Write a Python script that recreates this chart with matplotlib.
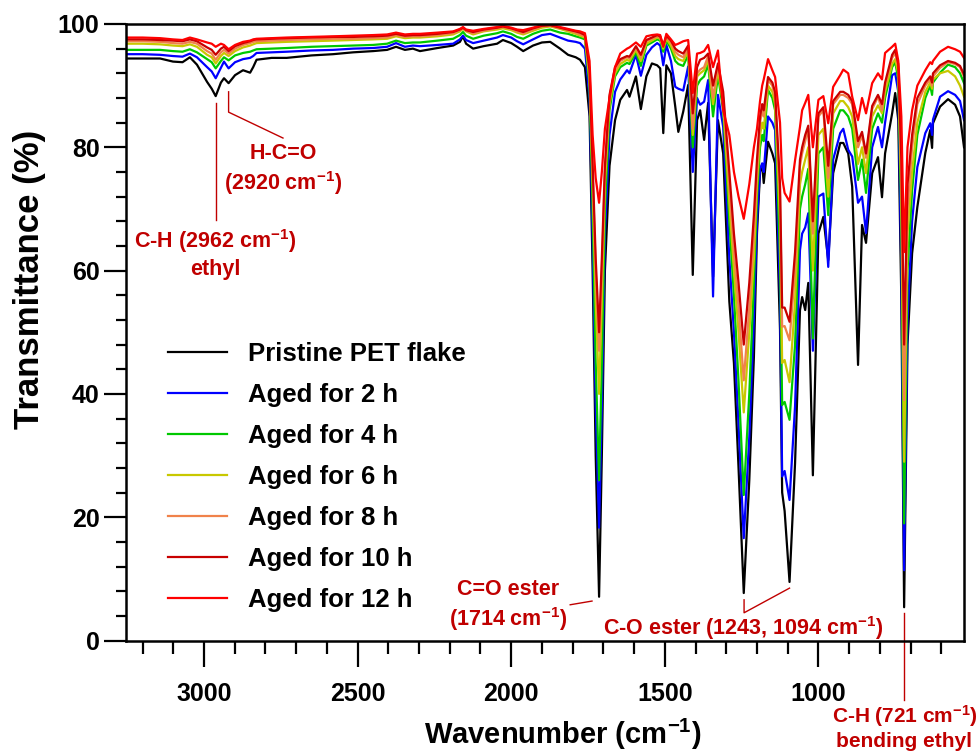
import matplotlib
matplotlib.use('Agg')
import matplotlib.pyplot as plt
from matplotlib.ticker import MultipleLocator

plt.rcParams['font.family'] = ['Liberation Sans', 'DejaVu Sans']
plt.rcParams['font.weight'] = 'bold'
plt.rcParams['axes.labelweight'] = 'bold'
plt.rcParams['mathtext.fontset'] = 'custom'
plt.rcParams['mathtext.rm'] = 'Liberation Sans:bold'
plt.rcParams['mathtext.bf'] = 'Liberation Sans:bold'
plt.rcParams['mathtext.default'] = 'bf'

# wavenumber grid (cm-1)
wavenumber = [
    3250, 3200, 3143, 3101, 3070, 3046, 3023, 2990, 2975, 2962, 2945, 2935, 2920, 2899, 2873, 2850,
    2840, 2829, 2780, 2731, 2650, 2580, 2515, 2450, 2404, 2375, 2346, 2320, 2297, 2240, 2189, 2167,
    2157, 2147, 2124, 2090, 2046, 2027, 2000, 1981, 1961, 1929, 1900, 1873, 1841, 1815, 1790, 1776,
    1760, 1745, 1735, 1725, 1714, 1705, 1695, 1680, 1662,
    1645, 1623, 1615, 1594, 1578, 1560, 1542, 1525, 1515, 1505, 1495, 1480, 1466, 1456, 1440, 1424,
    1409, 1395, 1385, 1372, 1359, 1343, 1327,
    1310, 1290, 1275, 1260, 1243, 1225, 1210, 1200, 1190, 1183, 1178, 1164, 1150, 1141, 1125, 1118,
    1110, 1094, 1076, 1060, 1053, 1043, 1033, 1018, 1000, 984, 968, 952, 929, 919, 903, 890,
    871, 858, 845, 825, 806, 793, 783, 760, 750, 740, 730, 721, 710, 695, 678, 652,
    636, 630, 627, 604, 578, 555, 539, 526,
]

pristine = [
    94.4, 94.4, 94.4, 93.9, 93.8, 94.6, 93.4, 90.6, 89.5, 88.3, 90.5, 91.2, 90.4, 91.7, 92.5, 92.1,
    93.0, 94.2, 94.5, 94.5, 94.9, 95.1, 95.4, 95.6, 95.8, 96.3, 95.8, 96.0, 95.6, 96.1, 96.5, 97.1,
    98.0, 96.8, 96.0, 96.4, 96.8, 97.4, 96.9, 96.3, 95.6, 96.5, 97.0, 97.1, 96.0, 95.0, 94.6, 94.2,
    93.0, 85.0, 60.0, 30.0, 7.1, 30.0, 60.0, 77.0, 84.4,
    87.7, 89.3, 88.2, 91.5, 86.2, 91.5, 93.6, 93.3, 92.8, 82.3, 93.3, 92.0, 86.6, 82.5, 85.8, 90.1,
    59.3, 84.4, 86.0, 81.2, 87.2, 59.0, 84.4,
    79.0, 55.0, 45.0, 28.0, 7.7, 26.0, 46.0, 66.0, 76.0, 77.1, 74.2, 80.9, 79.0, 77.4, 50.4, 24.0,
    21.0, 9.5, 28.8, 53.6, 55.7, 53.6, 58.0, 26.8, 66.0, 68.7, 61.7, 75.8, 80.7, 80.7, 79.0, 73.6,
    44.7, 67.4, 64.5, 75.8, 78.4, 71.9, 79.0, 85.5, 88.8, 84.4, 55.0, 5.4, 48.0, 62.8, 70.3, 79.1,
    82.8, 79.9, 83.9, 86.6, 87.8, 86.9, 85.0, 80.0,
]

aged_2h = [
    95.1, 95.1, 95.0, 94.8, 94.7, 95.2, 94.6, 93.0, 92.3, 91.2, 92.9, 93.9, 92.8, 93.8, 94.3, 94.5,
    94.8, 95.3, 95.4, 95.5, 95.7, 95.8, 96.0, 96.1, 96.3, 96.9, 96.3, 96.5, 96.4, 96.6, 96.8, 97.5,
    98.1, 97.4, 96.9, 97.3, 97.8, 98.2, 97.8, 97.2, 96.7, 97.5, 98.2, 98.4, 97.8, 97.3, 97.1, 96.9,
    96.0, 88.0, 65.0, 38.0, 18.3, 38.0, 66.0, 82.0, 89.0,
    91.0, 92.5, 92.0, 95.0, 91.6, 95.0, 96.2, 96.9, 96.5, 93.3, 96.6, 94.0, 89.8, 89.5, 89.2, 93.1,
    76.0, 88.0, 86.9, 87.4, 90.9, 55.8, 88.5,
    83.3, 62.0, 50.0, 35.0, 16.6, 33.0, 52.0, 68.0, 76.5, 77.4, 76.0, 85.0, 84.0, 82.8, 56.0, 26.6,
    27.5, 22.8, 38.0, 63.3, 66.0, 67.0, 69.3, 47.0, 72.0, 72.5, 60.6, 78.0, 82.3, 83.0, 79.6, 78.5,
    71.0, 72.0, 66.1, 80.0, 83.3, 80.0, 84.0, 91.7, 92.0, 89.0, 60.0, 11.4, 52.0, 68.0, 76.8, 82.3,
    83.9, 82.0, 84.5, 88.2, 89.1, 88.5, 87.5, 84.4,
]

aged_4h = [
    95.8, 95.8, 95.8, 95.6, 95.5, 95.9, 95.4, 94.3, 93.8, 92.8, 94.0, 94.6, 94.1, 94.9, 95.3, 95.5,
    95.7, 95.9, 96.0, 96.1, 96.3, 96.4, 96.5, 96.6, 96.8, 97.3, 96.9, 97.0, 97.0, 97.3, 97.6, 98.2,
    98.7, 98.1, 97.6, 98.1, 98.5, 98.8, 98.4, 97.9, 97.6, 98.4, 98.9, 99.1, 98.6, 98.4, 98.0, 97.8,
    97.5, 90.0, 70.0, 45.0, 26.0, 45.0, 70.0, 86.0, 91.5,
    93.0, 93.7, 93.5, 95.4, 93.2, 96.5, 97.0, 97.5, 97.3, 95.5, 97.3, 96.0, 94.0, 93.5, 93.2, 95.0,
    80.0, 90.0, 90.9, 91.5, 93.5, 85.0, 91.7,
    86.0, 68.0, 56.0, 42.0, 23.6, 40.0, 58.0, 72.0, 80.0, 82.0, 81.0, 89.3, 88.0, 86.0, 62.0, 38.2,
    38.7, 35.8, 48.0, 70.0, 72.0, 74.0, 76.5, 49.0, 79.0, 80.0, 69.0, 83.0, 86.0, 86.0, 85.0, 83.0,
    74.7, 78.0, 72.6, 83.0, 85.5, 84.0, 88.0, 93.0, 93.8, 91.0, 68.0, 19.0, 60.0, 73.0, 82.0, 88.0,
    90.0, 88.5, 90.5, 92.1, 93.4, 93.0, 92.0, 90.4,
]

aged_6h = [
    96.8, 96.8, 96.7, 96.5, 96.4, 96.7, 96.3, 95.0, 94.6, 93.6, 94.8, 95.3, 94.8, 95.6, 96.2, 96.5,
    96.7, 96.9, 97.0, 97.1, 97.2, 97.3, 97.4, 97.5, 97.6, 98.0, 97.7, 97.8, 97.8, 98.0, 98.3, 98.8,
    99.2, 98.8, 98.3, 98.8, 99.1, 99.3, 99.0, 98.6, 98.3, 98.9, 99.4, 99.6, 99.2, 98.8, 98.4, 98.1,
    97.8, 91.0, 74.0, 55.0, 40.0, 55.0, 74.0, 87.0, 92.0,
    93.5, 94.2, 94.0, 95.8, 94.0, 96.8, 97.3, 97.8, 97.6, 96.0, 97.6, 96.5, 94.8, 94.3, 94.0, 95.6,
    82.0, 91.5, 92.0, 92.5, 94.2, 87.0, 92.5,
    87.0, 71.0, 60.0, 50.0, 37.0, 50.0, 62.0, 74.0, 82.0, 84.0, 83.0, 90.0, 89.0, 87.0, 68.0, 45.0,
    45.5, 41.9, 55.0, 74.0, 76.0, 78.0, 80.0, 60.0, 82.0, 83.0, 72.0, 85.5, 87.5, 87.5, 86.5, 85.0,
    77.3, 80.0, 75.8, 85.0, 86.8, 85.5, 89.0, 93.5, 94.3, 92.0, 72.0, 29.0, 66.0, 76.0, 84.0, 89.0,
    90.5, 89.5, 91.0, 92.0, 92.4, 91.5, 90.0, 88.2,
]

aged_8h = [
    97.2, 97.2, 97.1, 96.9, 96.8, 97.1, 96.8, 95.6, 95.2, 94.2, 95.4, 95.8, 95.2, 96.0, 96.6, 96.9,
    97.1, 97.2, 97.3, 97.4, 97.5, 97.6, 97.6, 97.7, 97.8, 98.2, 97.9, 98.0, 98.0, 98.2, 98.5, 99.0,
    99.3, 98.9, 98.5, 98.9, 99.3, 99.5, 99.2, 98.8, 98.5, 99.1, 99.6, 99.7, 99.3, 99.0, 98.6, 98.3,
    98.0, 92.0, 76.0, 60.0, 47.0, 60.0, 76.0, 88.0, 92.5,
    94.0, 94.6, 94.4, 96.2, 94.5, 97.2, 97.6, 98.0, 97.8, 96.3, 97.9, 97.0, 95.5, 95.0, 94.6, 96.0,
    83.0, 92.0, 92.6, 93.0, 94.8, 88.0, 93.2,
    88.0, 74.0, 63.0, 54.0, 42.2, 54.0, 66.0, 76.0, 84.0, 86.0, 85.0, 90.9, 90.0, 88.0, 72.0, 50.9,
    51.0, 48.7, 60.0, 77.0, 79.0, 81.0, 83.0, 66.0, 85.0, 86.0, 75.0, 87.0, 88.5, 88.5, 88.0, 87.0,
    80.0, 82.0, 78.3, 86.2, 88.2, 86.0, 90.0, 94.5, 95.3, 93.0, 75.0, 39.0, 70.0, 80.0, 87.0, 90.0,
    91.0, 90.0, 91.5, 92.9, 93.8, 93.5, 93.0, 91.4,
]

aged_10h = [
    97.5, 97.5, 97.4, 97.3, 97.2, 97.5, 97.2, 96.2, 95.8, 95.0, 96.0, 96.3, 95.6, 96.4, 96.9, 97.2,
    97.4, 97.5, 97.6, 97.7, 97.8, 97.9, 97.9, 98.0, 98.1, 98.4, 98.1, 98.2, 98.2, 98.4, 98.7, 99.1,
    99.4, 99.0, 98.7, 99.1, 99.4, 99.6, 99.3, 99.0, 98.7, 99.3, 99.7, 99.8, 99.4, 99.1, 98.8, 98.6,
    98.2, 92.5, 77.0, 62.0, 50.0, 62.0, 77.0, 88.5, 93.0,
    94.3, 94.8, 94.7, 96.4, 95.0, 97.4, 97.8, 98.2, 98.0, 96.5, 98.1, 97.3, 96.0, 95.6, 95.2, 96.5,
    85.5, 93.0, 94.2, 94.5, 95.2, 90.0, 93.6,
    89.0, 76.0, 66.0, 58.0, 48.0, 58.0, 69.0, 78.0, 85.0, 87.0, 86.0, 91.4, 90.5, 89.0, 74.0, 54.0,
    54.0, 51.7, 63.0, 78.0, 80.0, 82.0, 83.5, 68.0, 85.5, 86.5, 77.0, 87.5, 89.0, 89.0, 88.5, 87.5,
    81.0, 82.5, 79.0, 86.7, 88.5, 87.0, 90.5, 95.0, 95.8, 93.5, 78.0, 48.0, 74.0, 82.0, 88.0, 90.5,
    91.5, 90.5, 92.0, 93.3, 94.0, 93.7, 93.2, 91.8,
]

aged_12h = [
    97.8, 97.8, 97.7, 97.5, 97.4, 97.8, 97.5, 97.0, 96.8, 96.3, 96.8, 96.6, 95.9, 96.6, 97.1, 97.3,
    97.5, 97.6, 97.7, 97.8, 97.9, 98.0, 98.1, 98.2, 98.3, 98.6, 98.3, 98.4, 98.4, 98.6, 98.8, 99.2,
    99.5, 99.1, 98.9, 99.2, 99.5, 99.7, 99.4, 99.1, 99.0, 99.4, 99.8, 99.9, 99.5, 99.2, 98.9, 98.8,
    98.5, 94.0, 82.0, 75.0, 71.0, 76.0, 83.0, 88.0, 93.0,
    95.2, 96.0, 96.2, 97.0, 96.3, 98.0, 98.2, 98.3, 98.2, 96.3, 98.4, 97.5, 96.6, 96.8, 97.2, 97.4,
    88.8, 95.2, 95.3, 95.6, 96.6, 93.0, 95.7,
    86.0, 82.0, 76.0, 72.0, 68.4, 74.0, 80.0, 83.0, 87.5, 90.0, 91.0, 94.3, 92.5, 91.4, 84.0, 75.0,
    72.6, 71.2, 77.9, 83.3, 86.0, 87.2, 88.5, 80.0, 87.7, 88.3, 83.9, 89.8, 91.7, 92.6, 92.0, 88.2,
    84.4, 88.0, 85.5, 90.4, 92.0, 91.0, 95.3, 96.3, 96.8, 94.0, 85.0, 63.0, 80.0, 86.0, 90.0, 92.5,
    93.8, 93.5, 94.0, 95.5, 96.3, 95.9, 95.5, 94.5,
]

series = [
    ('Pristine PET flake', pristine, '#000000'),
    ('Aged for 2 h', aged_2h, '#0000ff'),
    ('Aged for 4 h', aged_4h, '#00c800'),
    ('Aged for 6 h', aged_6h, '#c8c800'),
    ('Aged for 8 h', aged_8h, '#f0824a'),
    ('Aged for 10 h', aged_10h, '#c80000'),
    ('Aged for 12 h', aged_12h, '#ff0000'),
]

ann_color = '#c00000'

fig = plt.figure(figsize=(9.79, 7.54), dpi=100)
ax = fig.add_axes([0.1287, 0.1505, 0.8560, 0.8177])

for name, vals, col in series:
    ax.plot(wavenumber, vals, color=col, lw=1.6, label=name)

ax.set_xlim(3254, 526)
ax.set_ylim(0, 100)

ax.xaxis.set_major_locator(MultipleLocator(500))
ax.xaxis.set_minor_locator(MultipleLocator(100))
ax.yaxis.set_major_locator(MultipleLocator(20))
ax.yaxis.set_minor_locator(MultipleLocator(4))
ax.tick_params(axis='x', which='major', direction='out', length=19, width=1.6, pad=11, labelsize=18)
ax.tick_params(axis='x', which='minor', direction='out', length=9.5, width=1.6)
ax.tick_params(axis='y', which='major', direction='out', length=16, width=1.6, pad=3, labelsize=18)
ax.tick_params(axis='y', which='minor', direction='out', length=7, width=1.6)
ax.tick_params(top=False, right=False, which='both')
for sp in ax.spines.values():
    sp.set_linewidth(1.8)

ax.set_xlabel('Wavenumber (cm$^{-1}$)', fontsize=21, va='center')
ax.xaxis.set_label_coords(0.5215, -0.153)
ax.set_ylabel('Transmittance (%)', fontsize=25, va='center')
ax.yaxis.set_label_coords(-0.1146, 0.585)

ax.legend(loc='center left', bbox_to_anchor=(0.05, 0.265), frameon=False,
          prop={'weight': 'bold', 'size': 18.5}, handlelength=2.3, handletextpad=0.8,
          labelspacing=0.66, borderpad=0, borderaxespad=0)

# peak annotations: leader lines + labels
ax.plot([2962, 2962], [87.2, 68.2], color=ann_color, lw=1)
ax.text(2964, 62.7, 'C-H (2962 cm$^{-1}$)\nethyl', color=ann_color, fontsize=15.5,
        ha='center', va='center', linespacing=1.25)

ax.plot([2920, 2920, 2743], [89.0, 85.7, 81.5], color=ann_color, lw=1)
ax.text(2743, 76.3, 'H-C=O\n(2920 cm$^{-1}$)', color=ann_color, fontsize=15.5,
        ha='center', va='center', linespacing=1.25)

ax.plot([1808, 1737], [5.8, 6.4], color=ann_color, lw=1)
ax.text(2010, 5.6, 'C=O ester\n(1714 cm$^{-1}$)', color=ann_color, fontsize=15.5,
        ha='center', va='center', linespacing=1.25)

ax.plot([1094, 1242, 1242], [8.5, 4.5, 6.6], color=ann_color, lw=1)
ax.text(1245, 2.0, 'C-O ester (1243, 1094 cm$^{-1}$)', color=ann_color, fontsize=15.5,
        ha='center', va='center')

ax.plot([721, 721], [4.5, -9.7], color=ann_color, lw=1, clip_on=False)
ax.text(720, -14.1, 'C-H (721 cm$^{-1}$)\nbending ethyl', color=ann_color, fontsize=15,
        ha='center', va='center', linespacing=1.2)

fig.savefig('out.png', dpi=100)
